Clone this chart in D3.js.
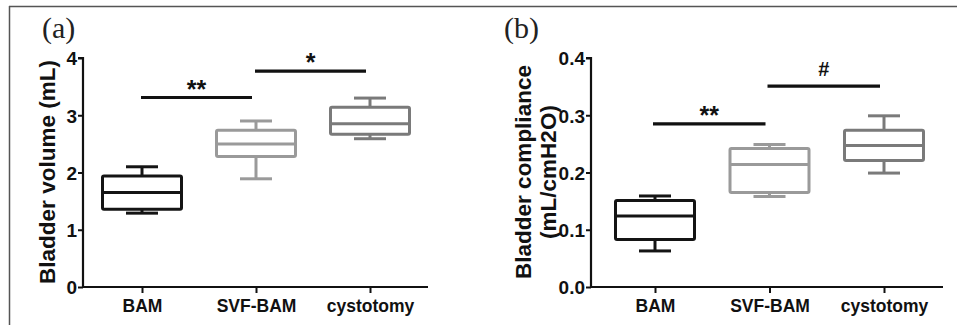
<!DOCTYPE html>
<html>
<head>
<meta charset="utf-8">
<script src="https://cdn.jsdelivr.net/npm/d3@7"></script>
<style>
  body { margin: 0; background: #fff; }
  svg text { font-family: "Liberation Sans", Arial, sans-serif; font-weight: bold; }
</style>
</head>
<body>
<div id="chart"></div>
<script>
// categories + box stats
const groups = ["BAM", "SVF-BAM", "cystotomy"];
const groupColors = ["#141414", "#9a9a9a", "#7a7a7a"];

// [min, q1, median, q3, max]
const volumeStats = [
  [1.29, 1.36, 1.65, 1.94, 2.10],
  [1.89, 2.28, 2.50, 2.74, 2.90],
  [2.59, 2.67, 2.85, 3.14, 3.30]
];
const complianceStats = [
  [0.063, 0.083, 0.124, 0.151, 0.159],
  [0.158, 0.165, 0.214, 0.242, 0.249],
  [0.199, 0.221, 0.247, 0.274, 0.299]
];

const volumeTicks = [0, 1, 2, 3, 4];
const complianceTicks = [0, 0.1, 0.2, 0.3, 0.4];

// significance bars: from group, to group, height, label
const volumeSig = [
  {from: 0, to: 1, y: 3.31, label: "**"},
  {from: 1, to: 2, y: 3.77, label: "*"}
];
const complianceSig = [
  {from: 0, to: 1, y: 0.285, label: "**"},
  {from: 1, to: 2, y: 0.351, label: "#"}
];

const W = 957, H = 325;
const svg = d3.select("#chart").append("svg").attr("width", W).attr("height", H);

// outer frame (top + left only)
svg.append("line").attr("x1", 9).attr("x2", W).attr("y1", 6.5).attr("y2", 6.5)
  .attr("stroke", "#555").attr("stroke-width", 1.5);
svg.append("line").attr("x1", 9.5).attr("x2", 9.5).attr("y1", 6).attr("y2", H)
  .attr("stroke", "#555").attr("stroke-width", 1.5);

function drawPanel(cfg) {
  const g = svg.append("g");
  const y = d3.scaleLinear().domain([0, cfg.max]).range([287, 58]);
  const x = d3.scalePoint().domain(groups).range([cfg.x0 + cfg.pad0, cfg.x1 - cfg.pad1]);

  // y axis
  const ya = g.append("g").attr("transform", `translate(${cfg.x0},0)`)
    .call(d3.axisLeft(y).tickValues(cfg.ticks).tickSize(5).tickFormat(cfg.fmt));
  ya.select(".domain").attr("stroke", "#111").attr("stroke-width", 2.2).attr("d", `M-5,58H0V287`);
  ya.selectAll(".tick line").attr("stroke", "#111").attr("stroke-width", 2);
  ya.selectAll(".tick text").attr("font-size", 19).attr("fill", "#111").attr("x", -6).attr("dy", "0.36em");

  // x axis
  const xa = g.append("g").attr("transform", `translate(0,287)`)
    .call(d3.axisBottom(x).tickSize(6).tickSizeOuter(0));
  xa.select(".domain").attr("stroke", "#111").attr("stroke-width", 2.2).attr("d", `M${cfg.x0},0H${cfg.x1}`);
  xa.selectAll(".tick line").attr("stroke", "#111").attr("stroke-width", 2);
  xa.selectAll(".tick text").attr("font-size", 17.5).attr("fill", "#111").attr("y", 25).attr("dy", 0);

  // boxes
  const boxW = 79, capW = 32;
  cfg.stats.forEach((s, i) => {
    const cx = x(groups[i]);
    const c = groupColors[i];
    const bg = g.append("g").attr("stroke", c).attr("stroke-width", 3).attr("fill", "none");
    bg.append("line").attr("x1", cx).attr("x2", cx).attr("y1", y(s[0])).attr("y2", y(s[1]));
    bg.append("line").attr("x1", cx).attr("x2", cx).attr("y1", y(s[3])).attr("y2", y(s[4]));
    bg.append("line").attr("x1", cx - capW / 2).attr("x2", cx + capW / 2).attr("y1", y(s[0])).attr("y2", y(s[0]));
    bg.append("line").attr("x1", cx - capW / 2).attr("x2", cx + capW / 2).attr("y1", y(s[4])).attr("y2", y(s[4]));
    bg.append("rect").attr("x", cx - boxW / 2).attr("width", boxW)
      .attr("y", y(s[3])).attr("height", y(s[1]) - y(s[3])).attr("rx", 1.5);
    bg.append("line").attr("x1", cx - boxW / 2).attr("x2", cx + boxW / 2).attr("y1", y(s[2])).attr("y2", y(s[2]));
  });

  // significance bars
  cfg.sig.forEach(d => {
    const xa1 = x(groups[d.from]) + cfg.sigOff[0], xa2 = x(groups[d.to]) - 4;
    g.append("line").attr("x1", xa1).attr("x2", xa2).attr("y1", y(d.y)).attr("y2", y(d.y))
      .attr("stroke", "#111").attr("stroke-width", 3.2);
    const hash = d.label === "#";
    g.append("text").attr("x", (xa1 + xa2) / 2).attr("y", y(d.y) - (hash ? 10 : 0))
      .attr("text-anchor", "middle").attr("font-size", hash ? 20 : 25).attr("fill", "#111")
      .text(d.label);
  });

  // y axis title
  const t = g.append("text").attr("transform", `translate(${cfg.titleX},172) rotate(-90)`)
    .attr("text-anchor", "middle").attr("font-size", 22.5).attr("fill", "#111");
  cfg.title.forEach((ln, i) => {
    t.append("tspan").attr("x", 0).attr("dy", i === 0 ? 0 : "1.12em").text(ln);
  });

  // panel letter
  svg.append("text").attr("x", cfg.letterX).attr("y", 38)
    .style("font-family", "'Liberation Serif', 'Times New Roman', serif").style("font-weight", "normal")
    .attr("font-size", 30).attr("fill", "#222").text(cfg.letter);
}

drawPanel({
  x0: 83, x1: 428, pad0: 59, pad1: 58, max: 4, ticks: volumeTicks, fmt: d3.format("d"),
  stats: volumeStats, sig: volumeSig, sigOff: [-1, 0],
  title: ["Bladder volume (mL)"], titleX: 55, letter: "(a)", letterX: 42
});
drawPanel({
  x0: 591, x1: 943, pad0: 64, pad1: 59, max: 0.4, ticks: complianceTicks, fmt: d3.format(".1f"),
  stats: complianceStats, sig: complianceSig, sigOff: [-2, 0],
  title: ["Bladder compliance", "(mL/cmH2O)"], titleX: 531, letter: "(b)", letterX: 504
});
</script>
</body>
</html>
